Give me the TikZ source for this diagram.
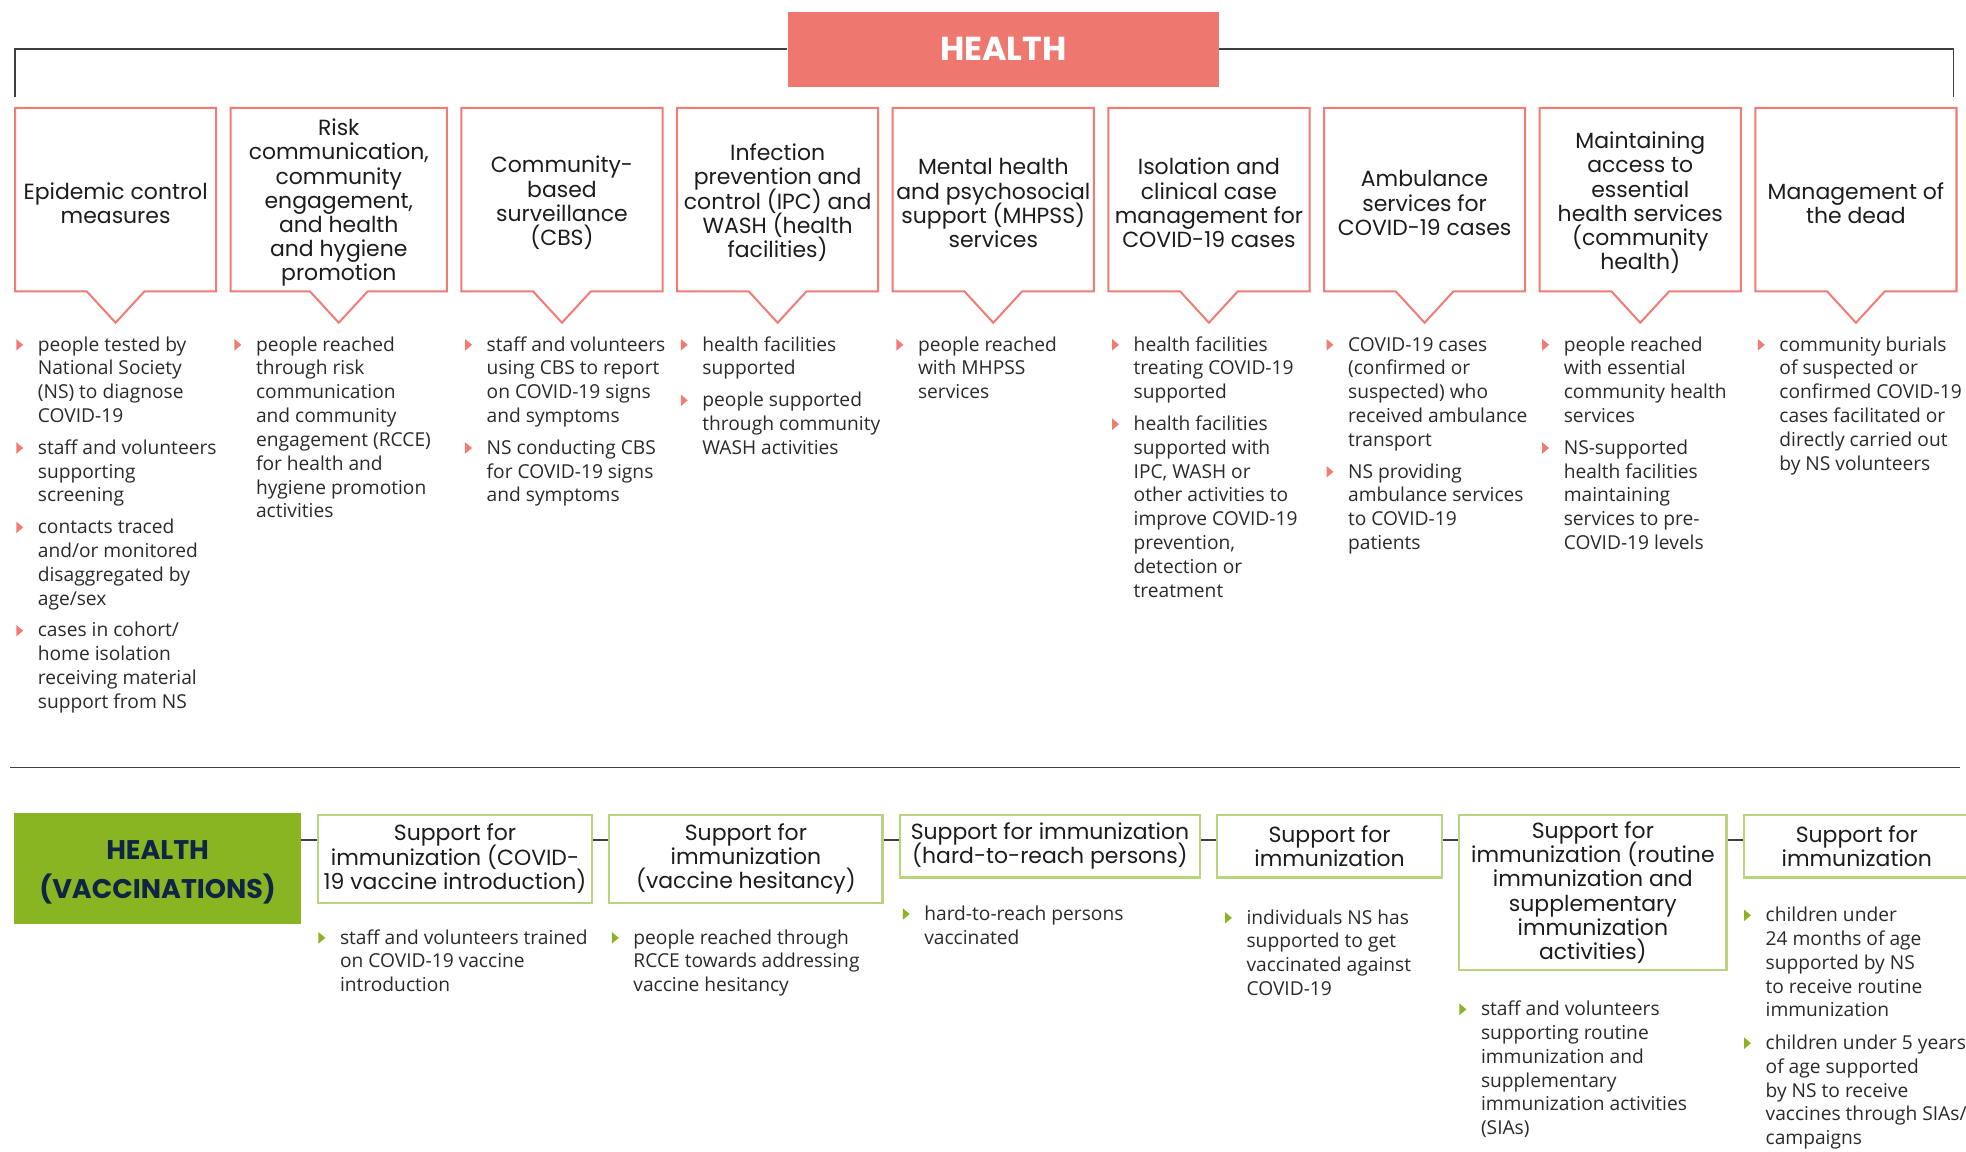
\documentclass[tikz,border=0pt]{standalone}
\usepackage{fontspec}
\usetikzlibrary{calc}
\newfontfamily\ttlfont{Poppins}
\newfontfamily\bodyfont{Open Sans}
\definecolor{salmon}{HTML}{EE7870}
\definecolor{salmonb}{HTML}{F07C74}
\definecolor{vgreen}{HTML}{8AB523}
\definecolor{lgreen}{HTML}{B8D47E}
\definecolor{navy}{HTML}{0E2545}
\definecolor{darkg}{HTML}{3F3F3F}
\definecolor{bodyc}{HTML}{2A2A2A}
\definecolor{titlec}{HTML}{1C1C1C}
\newcommand\tightls{\lineskiplimit -100pt\relax\lineskip 0pt\relax}
\newcommand\topstrut{\rule{0pt}{18.5pt}}
\tikzset{
  ttl/.style={inner sep=0pt, align=center, text=titlec,
    font={\ttlfont\fontsize{17.5}{19.3}\selectfont\tightls}},
  tbox/.style={ttl, anchor=north west, minimum height=146pt},
  gbox/.style={ttl, anchor=north west, draw=lgreen, line width=1.8pt},
  bl/.style={inner sep=0pt, anchor=north west, align=left, text=bodyc,
    font={\bodyfont\fontsize{15.3}{19}\selectfont\tightls}},
  redline/.style={draw=salmonb, line width=1.6pt, line join=miter},
  conn/.style={draw=darkg, line width=1.2pt},
}
\newcommand\bitem[5]{%
  \node[bl] (#1) at (#2,{#3-8.5}) {\strut#5};
  \fill[#4] ({#2-17},{#3-4.6}) -- ({#2-11.5},#3) -- ({#2-17},{#3+4.6}) -- cycle;
}
\begin{document}
\begin{tikzpicture}[x=1pt,y=-1pt]
\useasboundingbox (0,0) rectangle (1568,918);
\clip (0,0) rectangle (1568,918);
\fill[white] (0,0) rectangle (1568,918);

% ---------- HEALTH header ----------
\node[fill=salmon, minimum width=344pt, minimum height=60pt, anchor=north west,
  inner sep=0pt, text=white, font={\ttlfont\bfseries\fontsize{26.5}{30}\selectfont}]
  (health) at (628,9) {HEALTH};
\coordinate (brl) at (12,77);
\coordinate (brr) at (1558,77);
\draw[draw=darkg, line width=1.5pt] (health.west) -| (brl);
\draw[draw=darkg, line width=1.5pt] (health.east) -| (brr);

% ---------- top boxes ----------
\node[tbox, minimum width=160pt] (b1) at (12,86) {\topstrut Epidemic control\\measures};
\node[tbox, minimum width=172pt] (b2) at (184,86) {\topstrut Risk\\communication,\\community\\engagement,\\and health\\and hygiene\\promotion};
\node[tbox, minimum width=160pt] (b3) at (368,86) {\topstrut Community-\\based\\surveillance\\(CBS)};
\node[tbox, minimum width=160pt] (b4) at (540,86) {\topstrut Infection\\prevention and\\control (IPC) and\\WASH (health\\facilities)};
\node[tbox, minimum width=160pt] (b5) at (712,86) {\topstrut Mental health\\and psychosocial\\support (MHPSS)\\services};
\node[tbox, minimum width=160pt] (b6) at (884,86) {\topstrut Isolation and\\clinical case\\management for\\COVID-19 cases};
\node[tbox, minimum width=160pt] (b7) at (1056,86) {\topstrut Ambulance\\services for\\COVID-19 cases};
\node[tbox, minimum width=160pt] (b8) at (1228,86) {\topstrut Maintaining\\access to\\essential\\health services\\(community\\health)};
\node[tbox, minimum width=160pt] (b9) at (1400,86) {\topstrut Management of\\the dead};
\foreach \i in {1,...,9}{
  \draw[redline] ($(b\i.south)+(23,0)$) -- (b\i.south east) -- (b\i.north east)
    -- (b\i.north west) -- (b\i.south west) -- ($(b\i.south)+(-23,0)$)
    -- ($(b\i.south)+(0,25)$) -- cycle;
}

% ---------- top bullets ----------
\bitem{t1a}{30}{275}{salmonb}{people tested by\\National Society\\(NS) to diagnose\\COVID-19}
\bitem{t1b}{30}{357.3}{salmonb}{staff and volunteers\\supporting\\screening}
\bitem{t1c}{30}{420.6}{salmonb}{contacts traced\\and/or monitored\\disaggregated by\\age/sex}
\bitem{t1d}{30}{503}{salmonb}{cases in cohort/\\home isolation\\receiving material\\support from NS}
\bitem{t2a}{204}{275}{salmonb}{people reached\\through risk\\communication\\and community\\engagement (RCCE)\\for health and\\hygiene promotion\\activities}
\bitem{t3a}{388}{275}{salmonb}{staff and volunteers\\using CBS to report\\on COVID-19 signs\\and symptoms}
\bitem{t3b}{388}{357.3}{salmonb}{NS conducting CBS\\for COVID-19 signs\\and symptoms}
\bitem{t4a}{560}{275}{salmonb}{health facilities\\supported}
\bitem{t4b}{560}{319.3}{salmonb}{people supported\\through community\\WASH activities}
\bitem{t5a}{732}{275}{salmonb}{people reached\\with MHPSS\\services}
\bitem{t6a}{904}{275}{salmonb}{health facilities\\treating COVID-19\\supported}
\bitem{t6b}{904}{338.3}{salmonb}{health facilities\\supported with\\IPC, WASH or\\other activities to\\improve COVID-19\\prevention,\\detection or\\treatment}
\bitem{t7a}{1075}{275}{salmonb}{COVID-19 cases\\(confirmed or\\suspected) who\\received ambulance\\transport}
\bitem{t7b}{1075}{376.3}{salmonb}{NS providing\\ambulance services\\to COVID-19\\patients}
\bitem{t8a}{1247}{275}{salmonb}{people reached\\with essential\\community health\\services}
\bitem{t8b}{1247}{357.3}{salmonb}{NS-supported\\health facilities\\maintaining\\services to pre-\\COVID-19 levels}
\bitem{t9a}{1419}{275}{salmonb}{community burials\\of suspected or\\confirmed COVID-19\\cases facilitated or\\directly carried out\\by NS volunteers}

% ---------- separator ----------
\coordinate (sepl) at (8,612);
\coordinate (sepr) at (1563,612);
\draw[draw=darkg, line width=1.2pt] (sepl) -- (sepr);

% ---------- vaccinations ----------
\node[fill=vgreen, minimum width=229pt, minimum height=89pt, anchor=north west,
  inner sep=0pt, align=center, text=navy,
  font={\ttlfont\bfseries\fontsize{21.5}{31}\selectfont\tightls}]
  (hv) at (11,648) {\rule{0pt}{23.5pt}HEALTH\\(VACCINATIONS)\rule[-7.5pt]{0pt}{0pt}};
\node[gbox, minimum width=218pt, minimum height=70pt] (va) at (253,649) {Support for\\immunization (COVID-\\19 vaccine introduction)};
\node[gbox, minimum width=218pt, minimum height=70pt] (vb) at (485,649) {Support for\\immunization\\(vaccine hesitancy)};
\node[gbox, minimum width=239pt, minimum height=50pt] (vc) at (717,649) {Support for immunization\\(hard-to-reach persons)};
\node[gbox, minimum width=179pt, minimum height=50pt] (vd) at (970,649) {Support for\\immunization};
\node[gbox, minimum width=213pt, minimum height=124pt] (ve) at (1163,649) {Support for\\immunization (routine\\immunization and\\supplementary\\immunization\\activities)};
\node[gbox, minimum width=180pt, minimum height=50pt] (vf) at (1390,649) {Support for\\immunization};

\draw[conn] ([yshift=-22pt]hv.north east) -- ([yshift=-21pt]va.north west);
\draw[conn] ([yshift=-21pt]va.north east) -- ([yshift=-21pt]vb.north west);
\draw[conn] ([yshift=-21pt]vb.north east) -- ([yshift=-21pt]vc.north west);
\draw[conn] ([yshift=-21pt]vc.north east) -- ([yshift=-21pt]vd.north west);
\draw[conn] ([yshift=-21pt]vd.north east) -- ([yshift=-21pt]ve.north west);
\draw[conn] ([yshift=-21pt]ve.north east) -- ([yshift=-21pt]vf.north west);

% ---------- bottom bullets ----------
\bitem{ba}{271}{748}{vgreen}{staff and volunteers trained\\on COVID-19 vaccine\\introduction}
\bitem{bb}{505}{748}{vgreen}{people reached through\\RCCE towards addressing\\vaccine hesitancy}
\bitem{bc}{737}{729}{vgreen}{hard-to-reach persons\\vaccinated}
\bitem{bd}{994}{732}{vgreen}{individuals NS has\\supported to get\\vaccinated against\\COVID-19}
\bitem{be}{1181}{805}{vgreen}{staff and volunteers\\supporting routine\\immunization and\\supplementary\\immunization activities\\(SIAs)}
\bitem{bf1}{1408}{730}{vgreen}{children under\\24 months of age\\supported by NS\\to receive routine\\immunization}
\bitem{bf2}{1408}{832}{vgreen}{children under 5 years\\of age supported\\by NS to receive\\vaccines through SIAs/\\campaigns}
\end{tikzpicture}
\end{document}
